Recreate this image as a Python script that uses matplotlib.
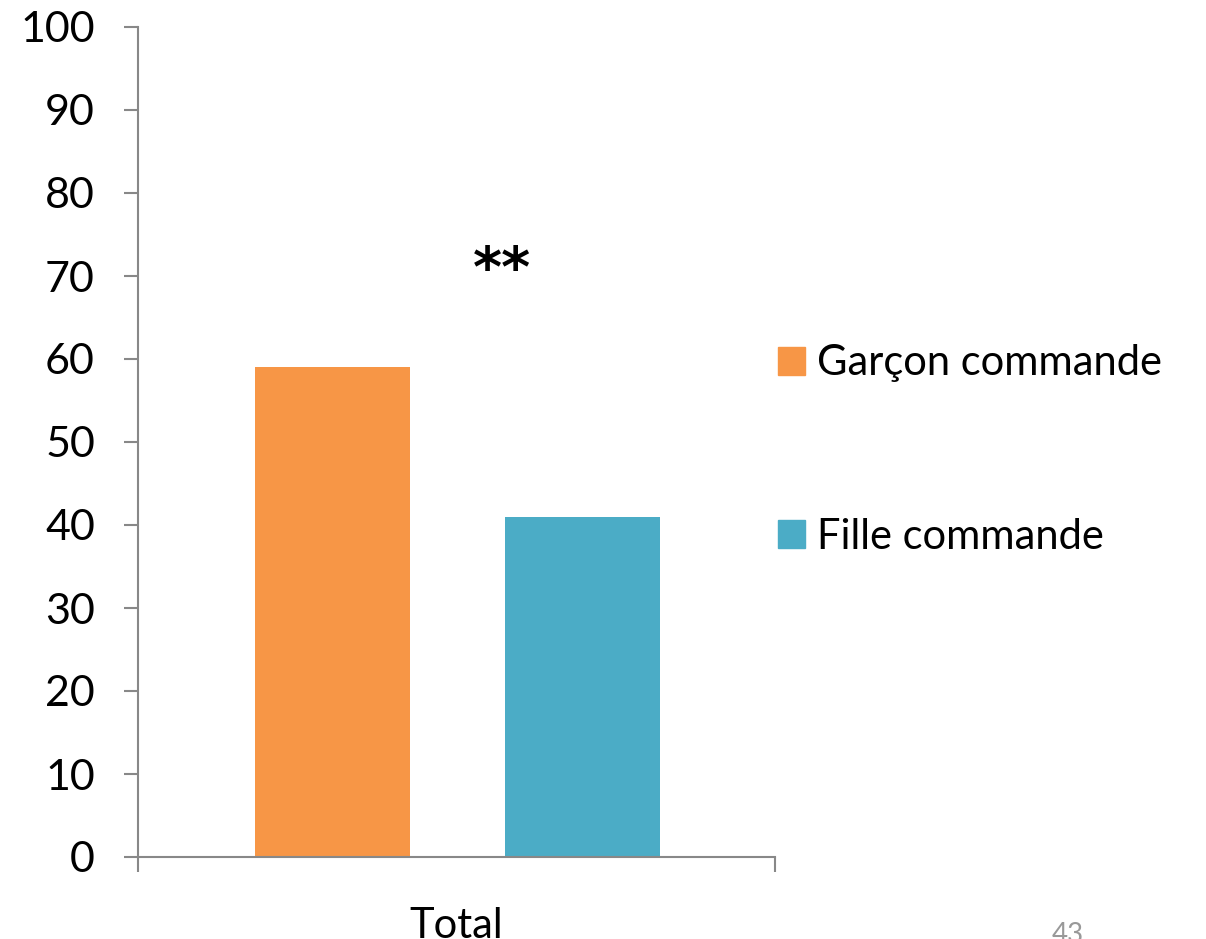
import matplotlib.pyplot as plt
from matplotlib.patches import Patch

categories = ['Total']
series = ['Garçon commande', 'Fille commande']
values = [59, 41]
colors = ['#F79646', '#4BACC6']

plt.rcParams['font.family'] = ['Lato', 'DejaVu Sans']

fig = plt.figure(figsize=(12.06, 9.39), dpi=100)
ax = fig.add_axes([138 / 1206, 82 / 939, 637 / 1206, 830 / 939])

pos = [0.3053, 0.6978]
for p, v, c in zip(pos, values, colors):
    ax.bar(p, v, width=0.2433, color=c, zorder=2)

ax.set_xlim(0, 1)
ax.set_ylim(0, 100)
ax.set_yticks(range(0, 101, 10))
ax.set_xticks([0.5])
ax.set_xticklabels(categories)
ax.set_xticks([0, 1], minor=True)

for s in ['top', 'right']:
    ax.spines[s].set_visible(False)
for s in ['left', 'bottom']:
    ax.spines[s].set_color('#888888')
    ax.spines[s].set_linewidth(1.5)

ax.tick_params(axis='y', length=10, width=1.5, color='#888888', labelsize=31, pad=21)
ax.tick_params(axis='x', which='major', length=0, labelsize=30, pad=36)
ax.tick_params(axis='x', which='minor', length=11, width=1.5, color='#888888')

ax.text(0.572, 70.6, '**', ha='center', va='center', fontsize=40,
        fontweight='bold', family='DejaVu Sans')

handles = [Patch(color=c) for c in colors]
fig.legend(handles, series, loc='center left', bbox_to_anchor=(740 / 1206, 1 - 450 / 939),
           frameon=False, fontsize=30, labelspacing=3.25, handlelength=0.65,
           handleheight=0.65, handletextpad=0.3)

fig.text(1068 / 1206, 1 - 922 / 939, '43', ha='center', va='top', fontsize=20, color='#999999')

fig.savefig('out.png', dpi=100)
